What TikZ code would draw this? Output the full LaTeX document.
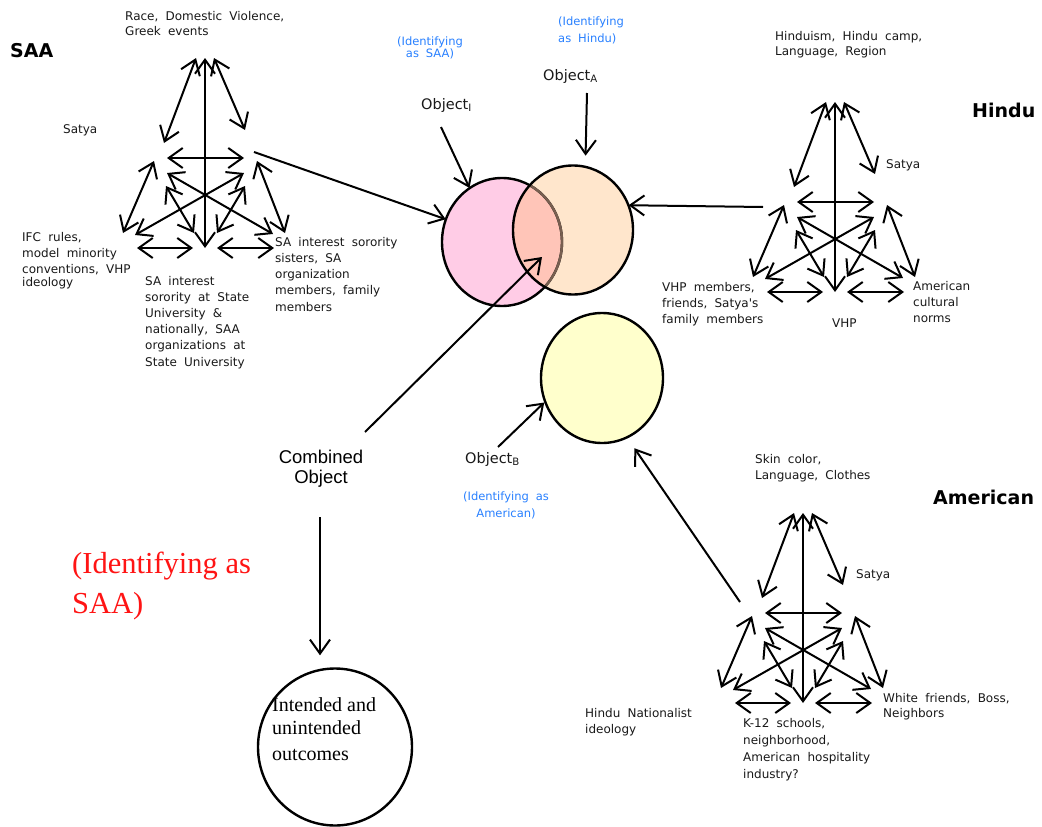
\documentclass[tikz,border=0pt]{standalone}
\usepackage{fontspec}
\setmainfont{DejaVu Sans}
\newfontfamily\lblfont[WordSpace=1.9]{DejaVu Sans}
\newfontfamily\arialfont{Liberation Sans}
\newfontfamily\seriffont{Liberation Serif}
\usetikzlibrary{arrows.meta,shapes.geometric}

\definecolor{pinkfill}{RGB}{255,204,230}
\definecolor{peachfill}{RGB}{255,230,204}
\definecolor{overlapfill}{RGB}{255,197,184}
\definecolor{yellowfill}{RGB}{255,255,204}
\definecolor{seenedge}{RGB}{120,95,80}
\definecolor{idblue}{RGB}{40,128,255}
\definecolor{idred}{RGB}{255,20,20}
\definecolor{ink}{RGB}{25,25,25}

% multi-line labels are placed by the baseline of their last line
\tikzset{
  barb/.tip={Straight Barb[length=14pt,width=20pt]},
  arr/.style={line width=2pt,-barb},
  dbl/.style={line width=2pt,barb-barb},
  ring/.style={line width=2.4pt},
  lbl/.style={font=\lblfont\fontsize{12}{16}\selectfont,text=ink,align=left,inner sep=0pt,anchor=base west},
  head/.style={font=\fontsize{19}{22}\selectfont\bfseries,text=black,inner sep=0pt,anchor=base west},
  idlbl/.style={font=\lblfont\fontsize{11.5}{17}\selectfont,text=idblue,inner sep=0pt},
  objlbl/.style={font=\fontsize{14.5}{17}\selectfont,text=ink,inner sep=0pt,anchor=base west},
  comblbl/.style={font=\arialfont\fontsize{18.5}{20}\selectfont,text=black,inner sep=0pt,align=center,anchor=base},
  redlbl/.style={font=\seriffont\fontsize{30.5}{40}\selectfont,text=idred,inner sep=0pt,align=left,anchor=base west},
  outlbl/.style={font=\seriffont\fontsize{20}{23.5}\selectfont,text=black,inner sep=0pt,align=left,anchor=base west},
  blob/.style={ellipse,inner sep=0pt},
  % the web of two-way arrows between five influences
  motif/.pic={
    \draw[dbl] (0,0) -- (0,190);
    \draw[dbl] (-9,0) -- (-41,85);
    \draw[dbl] (9,0) -- (40,72);
    \draw[dbl] (-38,100) -- (39,100);
    \draw[dbl] (-51,103) -- (-82,175);
    \draw[dbl] (52,103) -- (80,175);
    \draw[dbl] (-38,115) -- (68,176);
    \draw[dbl] (39,115) -- (-70,177);
    \draw[dbl] (-39,128) -- (-11,175);
    \draw[dbl] (40,128) -- (12,175);
    \draw[dbl] (-68,190) -- (-12,190);
    \draw[dbl] (12,190) -- (69,190);
  }
}

\begin{document}
\begin{tikzpicture}[x=1pt,y=-1pt]
\useasboundingbox (0,0) rectangle (1042,827);
\fill[white] (0,0) rectangle (1042,827);

% ---- identity circles ----
\fill[pinkfill] (502,242) ellipse [x radius=60pt, y radius=64pt];
\fill[peachfill] (573,230) ellipse [x radius=60pt, y radius=64.5pt];
\begin{scope}
  \clip (502,242) ellipse [x radius=60pt, y radius=64pt];
  \fill[overlapfill] (573,230) ellipse [x radius=60pt, y radius=64.5pt];
\end{scope}
\draw[ring] (502,242) ellipse [x radius=60pt, y radius=64pt];
\begin{scope}
  \clip (573,230) ellipse [x radius=60pt, y radius=64.5pt];
  \draw[ring,draw=seenedge] (502,242) ellipse [x radius=60pt, y radius=64pt];
\end{scope}
\draw[ring] (573,230) ellipse [x radius=60pt, y radius=64.5pt];
\node[blob,minimum width=120pt,minimum height=128pt] (pink) at (502,242) {};
\node[blob,minimum width=120pt,minimum height=129pt] (peach) at (573,230) {};
\node[blob,ring,draw,fill=yellowfill,minimum width=122pt,minimum height=130pt] (yellow) at (602,378) {};
\node[blob,ring,draw,minimum width=154pt,minimum height=157pt] (outc) at (335,747) {};

% ---- arrow webs ----
\pic at (205,58) {motif};
\pic at (835,102) {motif};
\pic at (803,513) {motif};

% ---- SAA group ----
\node[head] (saah) at (10,57) {SAA};
\node[lbl,font=\lblfont\fontsize{12}{15}\selectfont] (saatop) at (125,35) {Race, Domestic Violence,\\Greek events};
\node[lbl] (saasat) at (63,133) {Satya};
\node[lbl] (saaleft) at (22,286) {IFC rules,\\model minority\\conventions, VHP\\[-3pt]ideology};
\node[lbl,font=\lblfont\fontsize{12}{16.2}\selectfont] (saabot) at (145,366) {SA interest\\sorority at State\\University \&\\nationally, SAA\\organizations at\\State University};
\node[lbl,font=\lblfont\fontsize{12}{16.2}\selectfont] (saaright) at (275,311) {SA interest sorority\\sisters, SA\\organization\\members, family\\members};

% ---- Hindu group ----
\node[lbl,font=\lblfont\fontsize{12}{15}\selectfont] (hintop) at (775,55) {Hinduism, Hindu camp,\\Language, Region};
\node[head] (hinh) at (972,117) {Hindu};
\node[lbl] (hinsat) at (886,168) {Satya};
\node[lbl] (hinleft) at (662,323) {VHP members,\\friends, Satya's\\family members};
\node[lbl] (hinbot) at (832,327) {VHP};
\node[lbl] (hinright) at (913,322) {American\\cultural\\norms};

% ---- American group ----
\node[lbl] (amtop) at (755,479) {Skin color,\\Language, Clothes};
\node[head] (amh) at (933,504) {American};
\node[lbl] (amsat) at (856,578) {Satya};
\node[lbl,font=\lblfont\fontsize{12}{15}\selectfont] (amright) at (883,717) {White friends, Boss,\\Neighbors};
\node[lbl,font=\lblfont\fontsize{12}{16.7}\selectfont] (ambot) at (743,778) {K-12 schools,\\neighborhood,\\American hospitality\\industry?};
\node[lbl] (amleft) at (585,733) {Hindu Nationalist\\ideology};

% ---- objects ----
\node[idlbl,font=\lblfont\fontsize{11.5}{12}\selectfont,align=center,anchor=base] (idsaa) at (430,57) {(Identifying\\as SAA)};
\node[idlbl,align=left,anchor=base west] (idhin) at (558,42) {(Identifying\\as Hindu)};
\node[idlbl,align=center,anchor=base] (idam) at (506,517) {(Identifying as\\American)};
\node[objlbl] (objI) at (421,109) {Object\textsubscript{I}};
\node[objlbl] (objA) at (543,80) {Object\textsubscript{A}};
\node[objlbl] (objB) at (465,463) {Object\textsubscript{B}};
\node[comblbl] (comb) at (321,483) {Combined\\Object};
\node[redlbl] (idred) at (72,613) {(Identifying as\\SAA)};
\node[outlbl] (outtxt) at (272,760) {Intended and\\unintended\\[2pt]outcomes};

% ---- connectors ----
\coordinate (saaout) at (254,152);
\coordinate (hinout) at (763,207);
\coordinate (amout) at (740,602);
\coordinate (objItail) at (441,127);
\coordinate (objAtail) at (587,93);
\coordinate (objBtail) at (498,447);
\coordinate (combtail) at (365,432);
\coordinate (combtip) at (542,257);
\coordinate (downtail) at (320,517);

\draw[arr] (saaout) -- (pink.158);
\draw[arr] (objItail) -- (pink.121);
\draw[arr,shorten >=11pt] (objAtail) -- (peach.79);
\draw[arr] (hinout) -- (peach.24);
\draw[arr] (objBtail) -- (yellow.203);
\draw[arr,shorten >=12pt] (amout) -- (yellow.293);
\draw[arr] (combtail) -- (combtip);
\draw[arr,shorten >=12pt] (downtail) -- (downtail |- outc.north);
\end{tikzpicture}
\end{document}
